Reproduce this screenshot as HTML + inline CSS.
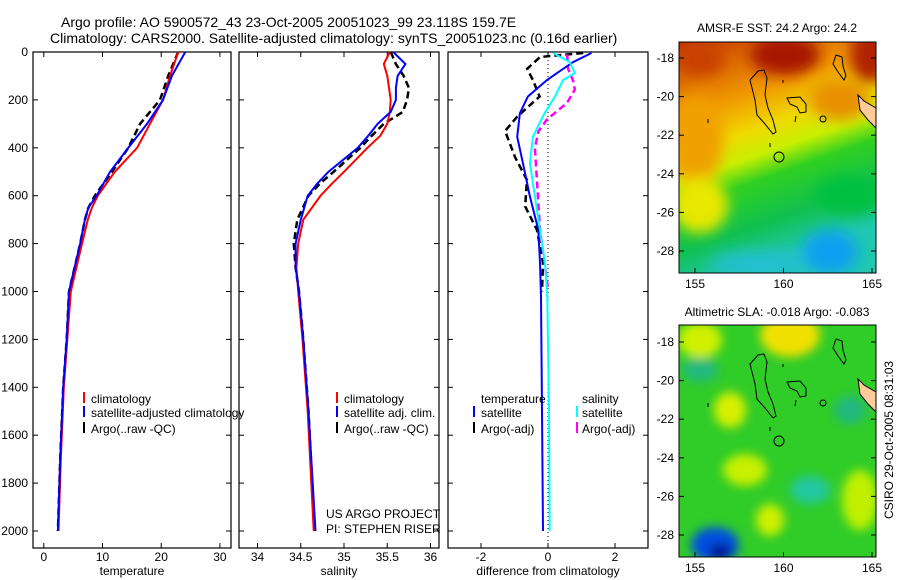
<!DOCTYPE html>
<html><head><meta charset="utf-8">
<style>
html,body{margin:0;padding:0;background:#fff;}
svg{display:block;font-family:"Liberation Sans",sans-serif;}
text{font-size:12px;fill:#000;}
</style></head>
<body>
<svg id="fig" width="900" height="580" viewBox="0 0 900 580" xmlns="http://www.w3.org/2000/svg">
<defs>
  <filter id="blur6" x="-20%" y="-20%" width="140%" height="140%"><feGaussianBlur stdDeviation="7"/></filter>
  <filter id="blur4" x="-20%" y="-20%" width="140%" height="140%"><feGaussianBlur stdDeviation="5"/></filter>
  <linearGradient id="sstGrad" x1="0" y1="0" x2="0.3" y2="1">
    <stop offset="0" stop-color="#c03000"/>
    <stop offset="0.12" stop-color="#d86000"/>
    <stop offset="0.3" stop-color="#f09800"/>
    <stop offset="0.45" stop-color="#f0d800"/>
    <stop offset="0.56" stop-color="#c8f000"/>
    <stop offset="0.66" stop-color="#30d020"/>
    <stop offset="0.84" stop-color="#10c050"/>
    <stop offset="1" stop-color="#20c8b0"/>
  </linearGradient>
  <clipPath id="clipTop"><rect x="679" y="42" width="197" height="231"/></clipPath>
  <clipPath id="clipBot"><rect x="679" y="325" width="197" height="232"/></clipPath>
  <clipPath id="clipP1"><rect x="33" y="52" width="198" height="496"/></clipPath>
  <clipPath id="clipP2"><rect x="239" y="52" width="200" height="496"/></clipPath>
  <clipPath id="clipP3"><rect x="448" y="52" width="200" height="496"/></clipPath>
</defs>

<text x="61" y="27" style="font-size:14px">Argo profile: AO 5900572_43 23-Oct-2005 20051023_99 23.118S 159.7E</text>
<text x="50" y="43" style="font-size:14px">Climatology: CARS2000. Satellite-adjusted climatology: synTS_20051023.nc (0.16d earlier)</text>

<g id="axes"></g>
<g id="series"></g>

<g>
  <line x1="84" y1="392" x2="84" y2="403" stroke="#f00" stroke-width="2"/>
  <text x="91" y="403">climatology</text>
  <line x1="84" y1="406" x2="84" y2="417" stroke="#00f" stroke-width="2"/>
  <text x="91" y="417">satellite-adjusted climatology</text>
  <line x1="84" y1="422" x2="84" y2="433" stroke="#000" stroke-width="2"/>
  <text x="91" y="433">Argo(..raw -QC)</text>
</g>
<g>
  <line x1="337" y1="392" x2="337" y2="403" stroke="#f00" stroke-width="2"/>
  <text x="344" y="403">climatology</text>
  <line x1="337" y1="406" x2="337" y2="417" stroke="#00f" stroke-width="2"/>
  <text x="344" y="417">satellite adj. clim.</text>
  <line x1="337" y1="422" x2="337" y2="433" stroke="#000" stroke-width="2"/>
  <text x="344" y="433">Argo(..raw -QC)</text>
</g>
<g>
  <text x="481" y="403">temperature</text>
  <line x1="474" y1="406" x2="474" y2="417" stroke="#00f" stroke-width="2"/>
  <text x="481" y="417">satellite</text>
  <line x1="474" y1="422" x2="474" y2="433" stroke="#000" stroke-width="2"/>
  <text x="481" y="433">Argo(-adj)</text>
  <text x="582" y="403">salinity</text>
  <line x1="577" y1="406" x2="577" y2="417" stroke="#0ff" stroke-width="2"/>
  <text x="582" y="417">satellite</text>
  <line x1="577" y1="422" x2="577" y2="433" stroke="#f0f" stroke-width="2"/>
  <text x="582" y="433">Argo(-adj)</text>
</g>
<text x="326" y="518">US ARGO PROJECT</text>
<text x="326" y="533">PI: STEPHEN RISER</text>

<g>
  <text x="777" y="32" text-anchor="middle">AMSR-E SST: 24.2 Argo: 24.2</text>
  <g clip-path="url(#clipTop)">
    <rect x="679" y="42" width="197" height="231" fill="url(#sstGrad)"/>
    <g filter="url(#blur6)">
      <ellipse cx="785" cy="55" rx="35" ry="20" fill="#a81800"/>
      <ellipse cx="870" cy="55" rx="20" ry="28" fill="#b02000"/>
      <ellipse cx="700" cy="60" rx="25" ry="15" fill="#c84000"/>
      <ellipse cx="840" cy="100" rx="30" ry="20" fill="#e89000"/>
      <ellipse cx="695" cy="140" rx="28" ry="45" fill="#f0a000"/>
      <ellipse cx="700" cy="205" rx="28" ry="28" fill="#e8e800"/>
      <ellipse cx="830" cy="252" rx="28" ry="22" fill="#10a0f0"/>
      <ellipse cx="760" cy="264" rx="50" ry="12" fill="#20c0d0"/>
      <ellipse cx="850" cy="195" rx="35" ry="20" fill="#00c040"/>
    </g>
  </g>
  <rect x="679" y="42" width="197" height="231" fill="none" stroke="#000"/>
</g>
<g>
  <text x="777" y="316" text-anchor="middle">Altimetric SLA: -0.018 Argo: -0.083</text>
  <g clip-path="url(#clipBot)">
    <rect x="679" y="325" width="197" height="232" fill="#30cc28"/>
    <g filter="url(#blur4)">
      <ellipse cx="790" cy="335" rx="30" ry="22" fill="#f0e000"/>
      <ellipse cx="700" cy="340" rx="22" ry="18" fill="#d0f000"/>
      <ellipse cx="730" cy="410" rx="16" ry="18" fill="#d8f000"/>
      <ellipse cx="745" cy="470" rx="22" ry="16" fill="#c8f000"/>
      <ellipse cx="770" cy="520" rx="14" ry="16" fill="#d0f000"/>
      <ellipse cx="860" cy="500" rx="18" ry="30" fill="#c0f000"/>
      <ellipse cx="810" cy="490" rx="20" ry="14" fill="#20c8a0"/>
      <ellipse cx="700" cy="370" rx="18" ry="12" fill="#20b880"/>
      <ellipse cx="850" cy="410" rx="16" ry="14" fill="#20b880"/>
      <ellipse cx="715" cy="545" rx="24" ry="18" fill="#0050e0"/>
      <ellipse cx="720" cy="552" rx="12" ry="8" fill="#001890"/>
    </g>
  </g>
  <rect x="679" y="325" width="197" height="232" fill="none" stroke="#000"/>
</g>
<g id="maps"></g>
<text transform="translate(893,440) rotate(-90)" text-anchor="middle">CSIRO 29-Oct-2005 08:31:03</text>

<script>
const tDepth = [0,100,200,300,400,500,600,650,700,800,1000,1200,1400,1700,2000];
const tClim  = [22.9,21.5,20.3,18.1,15.9,12.1,9.2,8.2,7.5,6.5,4.6,4.0,3.4,2.9,2.5];
const tSat   = [24.1,21.8,20.3,17.6,14.4,11.3,9.0,7.6,7.0,6.2,4.3,3.9,3.3,2.8,2.4];
const tArgo  = [22.9,21.2,19.8,16.4,14.4,11.6,8.7,7.6,7.0,6.2,4.3,3.9,3.3,2.8,2.4];

const sDepth = [0,50,100,150,200,250,300,350,400,500,550,600,700,800,900,1000,1200,1500,2000];
const sClim  = [35.53,35.46,35.5,35.52,35.54,35.53,35.5,35.42,35.27,35.0,34.86,34.73,34.53,34.47,34.45,34.47,34.52,34.58,34.65];
const sSat   = [35.57,35.71,35.62,35.6,35.6,35.54,35.39,35.28,35.16,34.82,34.69,34.58,34.5,34.44,34.44,34.48,34.53,34.59,34.67];
const sArgo  = [35.54,35.6,35.69,35.75,35.73,35.68,35.46,35.32,35.19,34.88,34.72,34.59,34.46,34.42,34.44,34.48,34.53,34.59,34.66];

const dSatDepth = [4,42,88,117,186,255,354,464,603,742,880,1020,1500,2000];
const dTSat = [1.3,0.75,0.27,-0.03,-0.6,-0.84,-0.92,-0.75,-0.54,-0.29,-0.24,-0.21,-0.18,-0.15];
const dSSat = [0.15,0.65,0.8,0.45,0.21,-0.1,-0.45,-0.54,-0.39,-0.24,-0.09,-0.02,0.03,0.05];
const dTArgoDepth = [4,21,70,117,186,270,330,440,534,645,742,880,1000];
const dTArgo = [1.05,-0.24,-0.62,-0.45,-0.25,-0.92,-1.28,-0.98,-0.63,-0.68,-0.33,-0.15,-0.18];
const dSArgoDepth = [10,70,120,157,212,282,330,400,534,742,880,990];
const dSArgo = [0.57,0.6,0.75,0.8,0.57,-0.03,-0.28,-0.39,-0.33,-0.24,-0.1,0.0];

const depthTicks = [0,200,400,600,800,1000,1200,1400,1600,1800,2000];
const tTicks = [0,10,20,30];
const sTicks = [34,34.5,35,35.5,36];
const dTicks = [-2,0,2];
const latTicks = [-18,-20,-22,-24,-26,-28];
const lonTicks = [155,160,165];

const NS = "http://www.w3.org/2000/svg";
const yD = d => 52 + d * 0.2395;
const xT = v => 43.8 + v * 5.87;
const xS = v => 257.5 + (v - 34) * 86.5;
const xDf = v => 548 + v * 33.5;
const yLatTop = l => 58 + (-18 - l) * 19.3;
const yLatBot = l => 342 + (-18 - l) * 19.3;
const xLon = l => 695 + (l - 155) * 17.7;

function mk(tag, attrs, parent) {
  const e = document.createElementNS(NS, tag);
  for (const k in attrs) e.setAttribute(k, attrs[k]);
  parent.appendChild(e);
  return e;
}
const axesG = document.getElementById('axes');
const seriesG = document.getElementById('series');

function panel(name, x0, x1, xs, ticks, label, fmt) {
  const g = mk('g', {}, axesG);
  
  
  mk('rect', {x:x0, y:52, width:x1-x0, height:496, fill:'none', stroke:'#000', 'stroke-width':1.2}, g);
  depthTicks.forEach(d => {
    mk('line', {x1:x0, y1:yD(d), x2:x0+5, y2:yD(d), stroke:'#000'}, g);
    mk('line', {x1:x1, y1:yD(d), x2:x1-5, y2:yD(d), stroke:'#000'}, g);
  });
  ticks.forEach(v => {
    const x = xs(v);
    mk('line', {x1:x, y1:548, x2:x, y2:543, stroke:'#000'}, g);
    mk('line', {x1:x, y1:52, x2:x, y2:57, stroke:'#000'}, g);
    const t = mk('text', {x:x, y:561, 'text-anchor':'middle'}, g);
    t.textContent = fmt(v);
  });
  const lt = mk('text', {x:(x0+x1)/2, y:575, 'text-anchor':'middle'}, g);
  
  
  lt.textContent = label;
}
panel('temperature', 33, 231, xT, tTicks, 'temperature', v => String(v));
panel('salinity', 239, 439, xS, sTicks, 'salinity', v => String(v));
panel('difference', 448, 648, xDf, dTicks, 'difference from climatology', v => String(v));

depthTicks.forEach(d => {
  const t = mk('text', {x:28, y:yD(d)+4, 'text-anchor':'end'}, axesG);
  
  
  t.textContent = String(d);
});
mk('line', {x1:xDf(0), y1:52, x2:xDf(0), y2:548, stroke:'#000', 'stroke-dasharray':'1,3'}, axesG);

function series(name, xs, depths, vals, color, dash, width, clip) {
  const pts = depths.map((d,i) => xs(vals[i]).toFixed(1) + ',' + yD(d).toFixed(1)).join(' ');
  const p = mk('polyline', {points:pts, fill:'none', stroke:color, 'stroke-width':width, 'clip-path':clip}, seriesG);
  if (dash) p.setAttribute('stroke-dasharray', dash);
  
  
}
series('temperature-argo-line', xT, tDepth, tArgo, '#000', '7,4', 2.5, 'url(#clipP1)');
series('temperature-climatology-line', xT, tDepth, tClim, '#f00', null, 2, 'url(#clipP1)');
series('temperature-satellite-line', xT, tDepth, tSat, '#00f', null, 2, 'url(#clipP1)');
series('salinity-argo-line', xS, sDepth, sArgo, '#000', '7,4', 2.5, 'url(#clipP2)');
series('salinity-climatology-line', xS, sDepth, sClim, '#f00', null, 2, 'url(#clipP2)');
series('salinity-satellite-line', xS, sDepth, sSat, '#00f', null, 2, 'url(#clipP2)');
series('diff-temperature-argo-line', xDf, dTArgoDepth, dTArgo, '#000', '7,4', 2.5, 'url(#clipP3)');
series('diff-salinity-argo-line', xDf, dSArgoDepth, dSArgo, '#f0f', '7,4', 2.5, 'url(#clipP3)');
series('diff-temperature-satellite-line', xDf, dSatDepth, dTSat, '#00f', null, 2, 'url(#clipP3)');
series('diff-salinity-satellite-line', xDf, dSatDepth, dSSat, '#0ff', null, 2, 'url(#clipP3)');

const mapsG = document.getElementById('maps');
[[yLatTop, 273, 288], [yLatBot, 557, 572]].forEach(([yl, yb, ylab], mi) => {
  latTicks.forEach(l => {
    mk('line', {x1:679, y1:yl(l), x2:684, y2:yl(l), stroke:'#000'}, mapsG);
    mk('line', {x1:876, y1:yl(l), x2:871, y2:yl(l), stroke:'#000'}, mapsG);
    const t = mk('text', {x:674, y:yl(l)+4, 'text-anchor':'end'}, mapsG);
    
    
    t.textContent = String(l);
  });
  lonTicks.forEach(l => {
    mk('line', {x1:xLon(l), y1:yb, x2:xLon(l), y2:yb-5, stroke:'#000'}, mapsG);
    const t = mk('text', {x:xLon(l), y:ylab, 'text-anchor':'middle'}, mapsG);
    
    
    t.textContent = String(l);
  });
  const off = mi === 0 ? 0 : 284;
  const cg = mk('g', {transform:'translate(0,' + off + ')', fill:'none', stroke:'#000', 'stroke-width':1}, mapsG);
  
  
  mk('path', {d:'M758,71 L764,70 L767,78 L765,95 L768,108 L773,120 L776,132 L773,134 L765,124 L757,115 L755,100 L752,88 L750,80 Z'}, cg);
  mk('path', {d:'M787,98 L800,97 L806,104 L806,112 L800,113 L797,107 L790,104 Z'}, cg);
  mk('path', {d:'M836,55 L842,57 L843,66 L846,76 L844,80 L838,72 L833,64 Z'}, cg);
  mk('circle', {cx:779, cy:157, r:5}, cg);
  mk('circle', {cx:823, cy:119, r:3}, cg);
  mk('path', {d:'M796,116 L795,122'}, cg);
  mk('path', {d:'M770,143 L770,147'}, cg);
  mk('path', {d:'M708,119 L708,123'}, cg);
  mk('path', {d:'M783,80 L783,83'}, cg);
  mk('path', {d:'M858,95 L864,101 L876,108 L876,128 L868,120 L860,110 Z', fill:'#ffcc99', stroke:'#000'}, cg);
});
</script>
</svg>
</body></html>
